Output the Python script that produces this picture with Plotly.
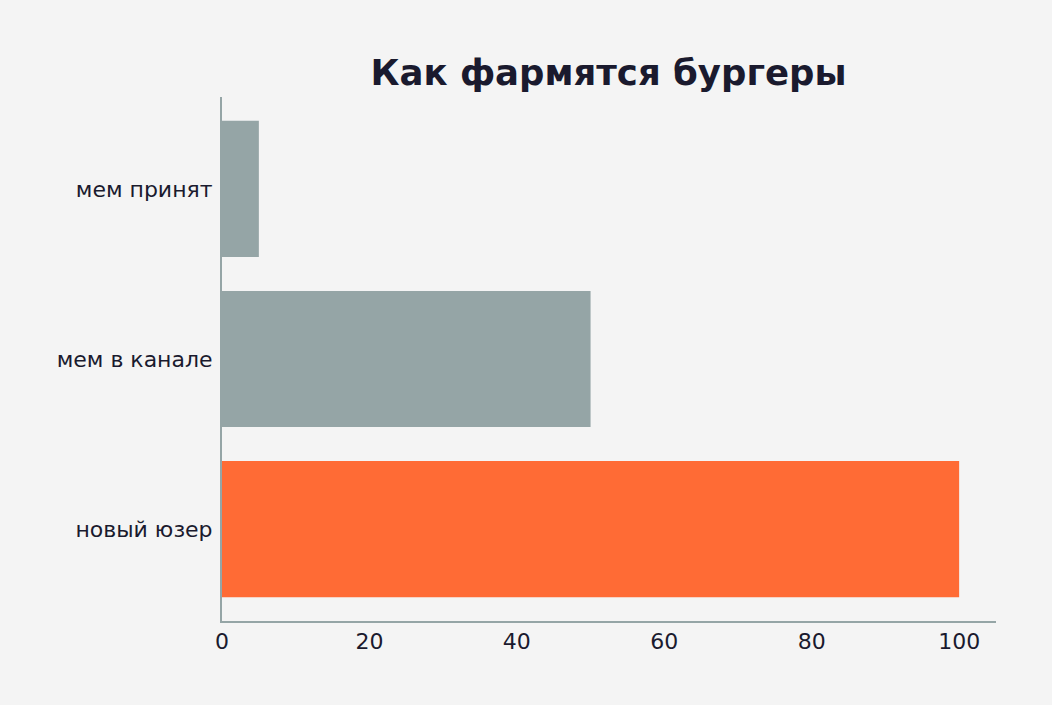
import plotly.graph_objects as go

categories = ["новый юзер", "мем в канале", "мем принят"]
values = [100, 50, 5]
colors = ["#FF6B35", "#95A5A6", "#95A5A6"]
x_ticks = [0, 20, 40, 60, 80, 100]

fig = go.Figure(go.Bar(
    y=categories, x=values, orientation="h",
    marker=dict(color=colors, line=dict(width=0)),
    width=0.8,
))

fig.update_layout(
    width=1052, height=705,
    paper_bgcolor="#F4F4F4", plot_bgcolor="#F4F4F4",
    margin=dict(l=222, r=56, t=97, b=84),
    font=dict(family="DejaVu Sans", color="#1A1A2E", size=22),
    title=dict(text="<b>Как фармятся бургеры</b>", x=(221 + 996) / 2 / 1052, xanchor="center",
               y=1 - 73 / 705, yanchor="middle", font=dict(size=35.5, color="#1A1A2E")),
    showlegend=False,
    bargap=0.2,
)
fig.update_xaxes(range=[0, 105], tickvals=x_ticks, showgrid=False, zeroline=False,
                 showline=True, linecolor="#95A5A6", linewidth=2, ticks="",
                 tickfont=dict(size=22), ticklabelstandoff=0)
fig.update_yaxes(range=[-0.54, 2.54], showgrid=False, zeroline=False,
                 showline=True, linecolor="#95A5A6", linewidth=2, ticks="",
                 tickfont=dict(size=22), ticklabelstandoff=3)

fig.write_html("out.html", config={"displayModeBar": False},
               post_script="document.body.style.margin='0';document.body.style.background='#F4F4F4';")
